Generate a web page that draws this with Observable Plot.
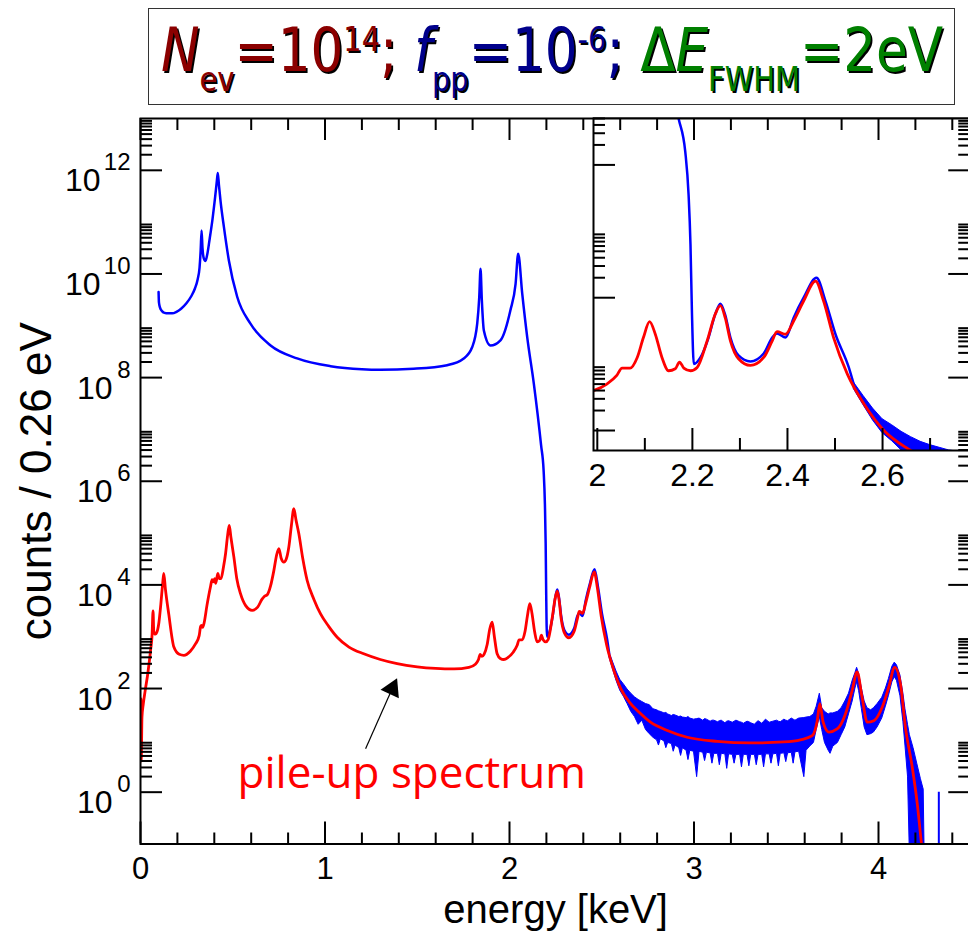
<!DOCTYPE html>
<html>
<head>
<meta charset="utf-8">
<script src="https://cdn.jsdelivr.net/npm/d3@7"></script>
<script src="https://cdn.jsdelivr.net/npm/@observablehq/plot@0.6"></script>
<style>
  html, body { margin: 0; padding: 0; overflow: hidden; background: #fff; }
  #chart { position: relative; width: 968px; height: 933px; overflow: hidden; }
  #chart svg { position: absolute; max-width: none; font-family: "Liberation Sans", Arial, Helvetica, sans-serif !important; }
  #title { position: absolute; left: 148px; top: 8px; width: 807px; height: 97px;
           border: 1.5px solid #333; box-sizing: border-box; background: #fff; }
  #titleText { position: absolute; left: 50%; top: 11px; transform: translateX(-50%) scaleX(0.86);
               font-family: "DejaVu Sans", sans-serif; font-size: 60px; line-height: 1;
               white-space: nowrap; text-shadow: 2px 2px 0 #000; }
  #titleText .sub, #titleText .sup { font-size: 0.56em; position: relative; }
  #titleText .sub { top: 20px; }
  #titleText .sup { top: -20px; }
  .r { color: #8b0000; } .b { color: #00008b; } .g { color: #008000; }
</style>
</head>
<body>
<div id="chart">
  <div id="title"><span id="titleText"><span class="r"><i>N</i><span class="sub">ev</span>=10<span class="sup">14</span>;</span> <span class="b"><i>f</i><span class="sub">pp</span>=10<span class="sup">-6</span>;</span> <span class="g">Δ<i>E</i><span class="sub">FWHM</span>=2eV</span></span></div>
</div>
<script>
// ---- spectra (energy in keV, counts given as log10) ----
const blueEnergy = [
  0.098, 0.100, 0.105, 0.115, 0.13, 0.15, 0.172, 0.195, 0.22, 0.25,
  0.275, 0.295, 0.31, 0.32, 0.326, 0.331, 0.336, 0.343, 0.352, 0.362,
  0.375, 0.39, 0.405, 0.414, 0.419, 0.425, 0.434, 0.452, 0.479, 0.524,
  0.596, 0.705, 0.849, 1.03, 1.20, 1.30, 1.48, 1.662, 1.752, 1.798,
  1.825, 1.836, 1.843, 1.850, 1.861, 1.897, 1.951, 2.005, 2.033, 2.047,
  2.069, 2.096, 2.132, 2.171, 2.185, 2.192, 2.196, 2.199, 2.203, 2.217,
  2.234, 2.248, 2.259, 2.269, 2.280, 2.297, 2.322, 2.350, 2.368, 2.378,
  2.396, 2.413, 2.434, 2.461, 2.480, 2.501, 2.529, 2.54];
const blueLog = [
  9.65, 9.45, 9.36, 9.29, 9.25, 9.24, 9.24, 9.27, 9.33, 9.44,
  9.57, 9.72, 9.9, 10.12, 10.45, 10.84, 10.5, 10.3, 10.25, 10.38,
  10.68, 11.05, 11.5, 11.8, 11.95, 11.72, 11.4, 10.91, 10.26, 9.56,
  9.04, 8.62, 8.37, 8.22, 8.16, 8.15, 8.17, 8.24, 8.37, 8.59,
  9.04, 9.55, 10.10, 9.5, 8.91, 8.62, 8.72, 9.30, 9.81, 10.39,
  9.62, 8.78, 7.88, 6.70, 6.20, 5.55, 4.80, 3.80, 3.0, 3.10,
  3.40, 3.75, 3.91, 3.74, 3.40, 3.13, 3.04, 3.16, 3.40, 3.46,
  3.40, 3.70, 4.00, 4.30, 3.95, 3.45, 2.95, 2.68];

// noisy tail of the measured spectrum: lower / upper envelope (log10)
const bandEnergy = [
  2.54, 2.56, 2.58, 2.60, 2.62, 2.64, 2.66, 2.68, 2.70, 2.72,
  2.74, 2.76, 2.78, 2.80, 2.81, 2.82, 2.84, 2.85, 2.86, 2.88,
  2.89, 2.90, 2.92, 2.93, 2.94, 2.96, 2.97, 2.98, 3.00, 3.017,
  3.03, 3.05, 3.06, 3.07, 3.09, 3.10, 3.11, 3.13, 3.14, 3.15,
  3.17, 3.18, 3.19, 3.21, 3.22, 3.23, 3.25, 3.26, 3.27, 3.29,
  3.30, 3.31, 3.33, 3.34, 3.35, 3.37, 3.38, 3.39, 3.41, 3.42,
  3.43, 3.45, 3.46, 3.47, 3.49, 3.50, 3.51, 3.53, 3.54, 3.55,
  3.57, 3.598, 3.61, 3.63, 3.65, 3.665, 3.682, 3.695, 3.71, 3.73,
  3.74, 3.755, 3.78, 3.80, 3.82, 3.84, 3.86, 3.875, 3.884, 3.895,
  3.91, 3.925, 3.94, 3.96, 3.975, 3.995, 4.02, 4.04, 4.056, 4.075,
  4.088, 4.10, 4.119, 4.135, 4.146, 4.16, 4.17, 4.19, 4.21, 4.23,
  4.245, 4.25];
const bandLow = [
  2.62, 2.38, 2.15, 1.96, 1.84, 1.70, 1.55, 1.45, 1.30, 1.38,
  1.20, 1.12, 1.05, 1.00, 0.90, 1.02, 0.98, 0.85, 0.95, 0.93,
  0.78, 0.90, 0.85, 0.70, 0.85, 0.80, 0.62, 0.80, 0.78, 0.29,
  0.78, 0.76, 0.60, 0.76, 0.75, 0.55, 0.74, 0.74, 0.52, 0.74,
  0.73, 0.45, 0.73, 0.72, 0.55, 0.72, 0.72, 0.48, 0.72, 0.72,
  0.50, 0.72, 0.72, 0.52, 0.72, 0.72, 0.48, 0.73, 0.73, 0.55,
  0.73, 0.74, 0.50, 0.74, 0.75, 0.58, 0.75, 0.76, 0.55, 0.77,
  0.78, 0.29, 0.80, 0.88, 0.95, 1.20, 1.45, 1.20, 0.95, 0.80,
  0.74, 0.88, 0.95, 1.10, 1.25, 1.50, 1.75, 2.00, 2.12, 1.95,
  1.60, 1.25, 1.10, 1.12, 1.15, 1.25, 1.42, 1.65, 1.85, 2.12,
  2.22, 2.15, 1.85, 1.35, 0.90, 0.30, -1.2, -1.2, -1.2, -1.2,
  -1.2, -1.2];
const bandHigh = [
  2.72, 2.52, 2.33, 2.17, 2.08, 1.98, 1.90, 1.83, 1.78, 1.74,
  1.70, 1.68, 1.60, 1.58, 1.56, 1.55, 1.52, 1.53, 1.50, 1.47,
  1.49, 1.48, 1.45, 1.46, 1.44, 1.43, 1.45, 1.42, 1.40, 1.41,
  1.42, 1.38, 1.41, 1.40, 1.36, 1.38, 1.38, 1.35, 1.37, 1.38,
  1.33, 1.36, 1.37, 1.34, 1.36, 1.38, 1.35, 1.34, 1.32, 1.36,
  1.35, 1.33, 1.30, 1.34, 1.37, 1.32, 1.36, 1.40, 1.34, 1.35,
  1.36, 1.38, 1.36, 1.35, 1.40, 1.38, 1.37, 1.42, 1.40, 1.38,
  1.42, 1.43, 1.44, 1.45, 1.50, 1.65, 1.90, 1.62, 1.55, 1.50,
  1.52, 1.52, 1.55, 1.62, 1.75, 1.90, 2.15, 2.30, 2.40, 2.28,
  2.00, 1.75, 1.62, 1.58, 1.62, 1.70, 1.82, 2.00, 2.18, 2.42,
  2.50, 2.45, 2.25, 1.90, 1.60, 1.30, 1.10, 0.85, 0.55, 0.25,
  0.05, -1.2];

// single isolated count beyond the endpoint
const spikeEnergy = [4.327];
const spikeCount = [1];

const redEnergy = [
  0.002, 0.004, 0.008, 0.015, 0.025, 0.040, 0.055, 0.063, 0.068, 0.072,
  0.080, 0.090, 0.100, 0.110, 0.120, 0.126, 0.135, 0.153, 0.181, 0.210,
  0.235, 0.270, 0.298, 0.318, 0.326, 0.331, 0.337, 0.345, 0.360, 0.379,
  0.388, 0.396, 0.402, 0.408, 0.419, 0.427, 0.436, 0.450, 0.461, 0.472,
  0.481, 0.490, 0.506, 0.522, 0.542, 0.570, 0.605, 0.635, 0.658, 0.672,
  0.687, 0.705, 0.723, 0.738, 0.750, 0.762, 0.777, 0.790, 0.804, 0.818,
  0.831, 0.843, 0.858, 0.880, 0.903, 0.940, 0.976, 1.020, 1.066, 1.130,
  1.210, 1.300, 1.391, 1.500, 1.600, 1.700, 1.780, 1.815, 1.832, 1.841,
  1.850, 1.862, 1.879, 1.893, 1.906, 1.918, 1.933, 1.950, 1.969, 1.992,
  2.020, 2.041, 2.052, 2.069, 2.084, 2.097, 2.110, 2.122, 2.136, 2.150,
  2.164, 2.173, 2.182, 2.196, 2.210, 2.231, 2.248, 2.259, 2.269, 2.280,
  2.297, 2.322, 2.350, 2.368, 2.378, 2.396, 2.413, 2.434, 2.459, 2.476,
  2.497, 2.526, 2.561, 2.603, 2.652, 2.700, 2.764, 2.855, 2.963, 3.126,
  3.306, 3.487, 3.577, 3.641, 3.668, 3.682, 3.700, 3.731, 3.776, 3.821,
  3.857, 3.884, 3.911, 3.939, 3.975, 4.020, 4.056, 4.088, 4.119, 4.146,
  4.183, 4.210, 4.231, 4.245];
const redLog = [
  1.80, 0.60, 1.45, 1.70, 1.95, 2.30, 2.75, 3.05, 3.50, 3.10,
  3.05, 3.10, 3.28, 3.62, 4.02, 4.22, 3.92, 3.44, 2.80, 2.66,
  2.64, 2.72, 2.86, 3.02, 3.20, 3.22, 3.18, 3.27, 3.60, 3.96,
  4.10, 4.06, 4.12, 4.03, 4.22, 4.12, 4.12, 4.35, 4.60, 4.95,
  5.15, 4.92, 4.54, 4.12, 3.83, 3.60, 3.51, 3.57, 3.72, 3.78,
  3.81, 3.98, 4.28, 4.58, 4.70, 4.52, 4.44, 4.50, 4.73, 5.15,
  5.47, 5.25, 4.99, 4.50, 4.09, 3.72, 3.44, 3.20, 2.99, 2.80,
  2.67, 2.56, 2.48, 2.42, 2.39, 2.38, 2.41, 2.47, 2.56, 2.66,
  2.62, 2.66, 2.85, 3.15, 3.28, 3.00, 2.67, 2.58, 2.56, 2.60,
  2.70, 2.83, 2.94, 2.94, 3.10, 3.40, 3.64, 3.45, 3.10, 2.90,
  2.93, 3.03, 2.94, 2.90, 2.95, 3.35, 3.75, 3.88, 3.70, 3.35,
  3.08, 2.98, 3.10, 3.35, 3.49, 3.45, 3.65, 3.95, 4.25, 3.95,
  3.40, 2.85, 2.40, 2.00, 1.73, 1.55, 1.35, 1.19, 1.06, 0.98,
  0.95, 0.97, 1.01, 1.09, 1.38, 1.71, 1.35, 1.16, 1.22, 1.51,
  1.96, 2.32, 1.83, 1.35, 1.38, 1.64, 2.03, 2.41, 2.09, 1.25,
  0.48, -0.22, -0.93, -1.40];

// ---- axis ticks ----
const xMajor = [0, 1, 2, 3, 4];
const xMinor = [0.2, 0.4, 0.6, 0.8, 1.2, 1.4, 1.6, 1.8, 2.2, 2.4, 2.6, 2.8, 3.2, 3.4, 3.6, 3.8, 4.2, 4.4];
const yMajorExp = [0, 2, 4, 6, 8, 10, 12];
const minorMult = [2, 3, 4, 5, 6, 7, 8, 9];
const insetXMajor = [2, 2.2, 2.4, 2.6];
const insetXMajorLabels = ["2", "2.2", "2.4", "2.6"];
const insetXMinor = [2.1, 2.3, 2.5, 2.7];
const insetYMajorExp = [2, 4, 6];

// ---- annotation ----
const noteText = ["pile-up spectrum"];
const noteEnergy = [0.526];
const noteCount = [1.23];
const arrowTail = {e: 1.22, c: 6.9};
const arrowHead = {e: 1.364, c: 99};

// ---- tables ----
const blue = blueEnergy.map((e, i) => ({e, c: 10 ** blueLog[i]}));
const red = redEnergy.map((e, i) => ({e, c: 10 ** redLog[i]}));
const band = bandEnergy.map((e, i) => ({e, lo: 10 ** bandLow[i], hi: 10 ** bandHigh[i]}));
const spikes = spikeEnergy.map((e, i) => ({e, c: spikeCount[i]}));
const yMajor = yMajorExp.map(k => 10 ** k);
const yMinor = yMajorExp.flatMap(k => minorMult.map(m => m * 10 ** k));
const insetYMajor = insetYMajorExp.map(k => 10 ** k);
const insetYMinor = insetYMajorExp.flatMap(k => minorMult.map(m => m * 10 ** k)).filter(v => v <= 5e6);
const notes = noteText.map((t, i) => ({t, e: noteEnergy[i], c: noteCount[i]}));

const BLUE = "#0000ff", RED = "#ff0000";
const FONT = "Liberation Sans, Arial, Helvetica, sans-serif";

// main panel geometry
const W = 971, H = 933;
const M = {marginLeft: 140, marginRight: 0.75, marginTop: 118, marginBottom: 89.5};
const FW = W - M.marginLeft - M.marginRight;
const FH = H - M.marginTop - M.marginBottom;
const MAJ = 22, MIN = 12;

const tickStyle = {stroke: "black", strokeWidth: 2};
const leftTicks = (v, len, fw) => Plot.tickY(v, {y: d => d, insetRight: fw - len, ...tickStyle});
const rightTicks = (v, len, fw) => Plot.tickY(v, {y: d => d, insetLeft: fw - len, ...tickStyle});
const bottomTicks = (v, len, fh) => Plot.tickX(v, {x: d => d, insetTop: fh - len, ...tickStyle});
const topTicks = (v, len, fh) => Plot.tickX(v, {x: d => d, insetBottom: fh - len, ...tickStyle});

const mainScales = {
  x: {domain: [0, 4.5], axis: null},
  y: {type: "log", domain: [0.1, 1e13], axis: null}
};

const main = Plot.plot({
  width: W, height: H, ...M, ...mainScales,
  style: {fontFamily: FONT, background: "white", maxWidth: "none", overflow: "visible"},
  marks: [
    Plot.areaY(band, {x: "e", y1: "lo", y2: "hi", fill: BLUE, stroke: BLUE, strokeWidth: 1, clip: true}),
    Plot.line(blue, {x: "e", y: "c", stroke: BLUE, strokeWidth: 2.5, curve: "monotone-x", clip: true}),
    Plot.ruleX(spikes, {x: "e", y1: "c", y2: 0.01, stroke: BLUE, strokeWidth: 2, clip: true}),
    Plot.line(red, {x: "e", y: "c", stroke: RED, strokeWidth: 2.8, curve: "monotone-x", clip: true}),
    leftTicks(yMajor, MAJ, FW),
    leftTicks(yMinor, MIN, FW),
    bottomTicks(xMajor, MAJ, FH),
    bottomTicks(xMinor, MIN - 1, FH),
    Plot.text(xMajor, {x: d => d, frameAnchor: "bottom", dy: 35, lineAnchor: "bottom",
      text: d => String(d), fontSize: 31, fill: "black"}),
    Plot.text(yMajorExp.filter(k => String(k).length === 1), {y: k => 10 ** k, frameAnchor: "left",
      text: () => "10", textAnchor: "end", dx: -28, dy: 21, lineAnchor: "bottom", fontSize: 32, fill: "black"}),
    Plot.text(yMajorExp.filter(k => String(k).length === 2), {y: k => 10 ** k, frameAnchor: "left",
      text: () => "10", textAnchor: "end", dx: -40, dy: 21, lineAnchor: "bottom", fontSize: 32, fill: "black"}),
    Plot.text(yMajorExp, {y: k => 10 ** k, frameAnchor: "left", text: k => String(k),
      textAnchor: "end", dx: -10, dy: 0, lineAnchor: "bottom", fontSize: 24, fill: "black"}),
    Plot.text(["energy [keV]"], {frameAnchor: "bottom", textAnchor: "middle", dy: 79, lineAnchor: "bottom",
      fontSize: 40, fill: "black"}),
    Plot.text(["counts / 0.26 eV"], {frameAnchor: "left", textAnchor: "middle", dx: -104, rotate: -90,
      lineAnchor: "middle", fontSize: 44, fill: "black"}),
    Plot.text(notes, {x: "e", y: "c", text: "t", textAnchor: "start", lineAnchor: "bottom",
      fontSize: 44, fontFamily: "Open Sans", fill: RED}),
    Plot.link([{e1: arrowTail.e, c1: arrowTail.c, e2: arrowHead.e, c2: arrowHead.c}],
      {x1: "e1", y1: "c1", x2: "e2", y2: "c2", stroke: "black", strokeWidth: 1.2}),
    Plot.dot([arrowHead], {x: "e", y: "c", symbol: "triangle", r: 7.5, fill: "black", stroke: "none", rotate: 25}),
    Plot.frame({stroke: "black", strokeWidth: 2})
  ]
});
main.style.left = "0px"; main.style.top = "0px";

// inset: zoom on the endpoint region
const IW = 379, IH = 379;
const IM = {marginLeft: 2, marginRight: 0, marginTop: 2, marginBottom: 45};
const IFW = IW - IM.marginLeft - IM.marginRight;
const IFH = IH - IM.marginTop - IM.marginBottom;

const inset = Plot.plot({
  width: IW, height: IH, ...IM,
  x: {domain: [1.992, 2.785], axis: null},
  y: {type: "log", domain: [50, 5e6], axis: null},
  style: {fontFamily: FONT, background: "transparent", maxWidth: "none", overflow: "visible"},
  marks: [
    Plot.frame({fill: "white"}),
    Plot.areaY(band, {x: "e", y1: "lo", y2: "hi", fill: BLUE, stroke: BLUE, strokeWidth: 1, clip: true}),
    Plot.line(blue, {x: "e", y: "c", stroke: BLUE, strokeWidth: 2.5, curve: "monotone-x", clip: true}),
    Plot.line(red, {x: "e", y: "c", stroke: RED, strokeWidth: 2.8, curve: "monotone-x", clip: true}),
    leftTicks(insetYMajor, MAJ, IFW),
    leftTicks(insetYMinor, MIN, IFW),
    bottomTicks(insetXMajor, MAJ, IFH),
    bottomTicks(insetXMinor, MIN, IFH),
    Plot.text(insetXMajor, {x: d => d, frameAnchor: "bottom", dy: 35, lineAnchor: "bottom",
      text: (d, i) => insetXMajorLabels[i], fontSize: 32, fill: "black"}),
    Plot.frame({stroke: "black", strokeWidth: 2})
  ]
});
inset.style.left = "591px"; inset.style.top = "116px";

// top and right ticks of the main panel sit above the inset
const overlay = Plot.plot({
  width: W, height: H, ...M, ...mainScales,
  style: {background: "transparent", maxWidth: "none", pointerEvents: "none"},
  marks: [
    topTicks(xMajor, MAJ, FH),
    topTicks(xMinor, MIN, FH),
    rightTicks(yMajor, MAJ, FW),
    rightTicks(yMinor, MIN, FW)
  ]
});
overlay.style.left = "0px"; overlay.style.top = "0px";

const chart = document.getElementById("chart");
const title = document.getElementById("title");
chart.insertBefore(main, title);
chart.insertBefore(inset, title);
chart.insertBefore(overlay, title);
</script>
</body>
</html>
